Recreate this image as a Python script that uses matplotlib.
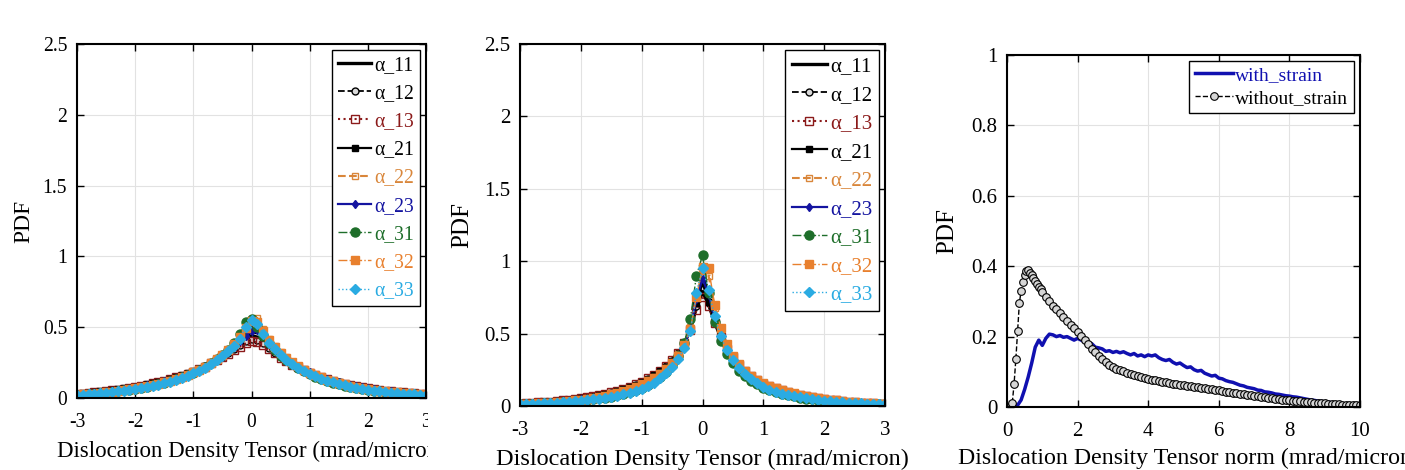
import matplotlib
matplotlib.use('Agg')
import matplotlib.pyplot as plt
from matplotlib.patches import Rectangle

plt.rcParams['font.family'] = ['Liberation Serif', 'DejaVu Serif']
plt.rcParams['axes.unicode_minus'] = False

# ---- data ----
labels_alpha = ['α_11', 'α_12', 'α_13', 'α_21', 'α_22', 'α_23', 'α_31', 'α_32', 'α_33']

x_alpha = [-3.0, -2.9, -2.8, -2.7, -2.6, -2.5, -2.4, -2.3, -2.2, -2.1,
           -2.0, -1.9, -1.8, -1.7, -1.6, -1.5, -1.4, -1.3, -1.2, -1.1,
           -1.0, -0.9, -0.8, -0.7, -0.6, -0.5, -0.4, -0.3, -0.2, -0.1,
           0.0, 0.1, 0.2, 0.3, 0.4, 0.5, 0.6, 0.7, 0.8, 0.9,
           1.0, 1.1, 1.2, 1.3, 1.4, 1.5, 1.6, 1.7, 1.8, 1.9,
           2.0, 2.1, 2.2, 2.3, 2.4, 2.5, 2.6, 2.7, 2.8, 2.9, 3.0]

# panel 1
p1_a11 = [0.030, 0.034, 0.038, 0.042, 0.047, 0.052, 0.057, 0.063, 0.069, 0.075, 0.082, 0.089, 0.097, 0.105, 0.114, 0.124, 0.135, 0.147, 0.160, 0.175, 0.191,
          0.208, 0.227, 0.248, 0.271, 0.297, 0.325, 0.355, 0.385, 0.420, 0.440,
          0.430, 0.400, 0.360, 0.325, 0.293, 0.265, 0.240, 0.218, 0.198,
          0.180, 0.163, 0.148, 0.135, 0.123, 0.112, 0.102, 0.093, 0.085, 0.077, 0.070, 0.064, 0.058, 0.053, 0.048, 0.044, 0.040, 0.036, 0.033, 0.030, 0.027]
p1_a12 = [0.028, 0.031, 0.035, 0.039, 0.044, 0.049, 0.054, 0.060, 0.066, 0.072, 0.079, 0.086, 0.094, 0.102, 0.111, 0.121, 0.132, 0.144, 0.157, 0.171, 0.187,
          0.204, 0.223, 0.244, 0.267, 0.292, 0.318, 0.345, 0.375, 0.405, 0.420,
          0.410, 0.385, 0.350, 0.318, 0.288, 0.262, 0.237, 0.215, 0.196,
          0.178, 0.161, 0.146, 0.133, 0.121, 0.110, 0.100, 0.091, 0.083, 0.076, 0.069, 0.063, 0.057, 0.052, 0.047, 0.043, 0.039, 0.035, 0.032, 0.029, 0.026]
p1_a13 = [0.027, 0.031, 0.034, 0.039, 0.043, 0.049, 0.053, 0.060, 0.065, 0.073, 0.078, 0.087, 0.093, 0.103, 0.110, 0.122, 0.131, 0.145, 0.156, 0.172, 0.186,
          0.205, 0.221, 0.245, 0.265, 0.290, 0.312, 0.338, 0.362, 0.385, 0.400,
          0.395, 0.372, 0.345, 0.315, 0.286, 0.262, 0.236, 0.216, 0.195,
          0.178, 0.160, 0.147, 0.132, 0.122, 0.109, 0.101, 0.090, 0.084, 0.075, 0.070, 0.062, 0.058, 0.051, 0.048, 0.042, 0.039, 0.034, 0.032, 0.028, 0.026]
p1_a21 = [0.029, 0.033, 0.037, 0.041, 0.046, 0.051, 0.056, 0.062, 0.068, 0.074, 0.081, 0.088, 0.096, 0.104, 0.113, 0.123, 0.134, 0.146, 0.159, 0.174, 0.190,
          0.207, 0.226, 0.248, 0.272, 0.300, 0.332, 0.368, 0.410, 0.465, 0.500,
          0.480, 0.430, 0.378, 0.338, 0.302, 0.270, 0.243, 0.219, 0.198,
          0.179, 0.162, 0.147, 0.134, 0.122, 0.111, 0.101, 0.092, 0.084, 0.076, 0.069, 0.063, 0.057, 0.052, 0.047, 0.043, 0.039, 0.035, 0.032, 0.029, 0.026]
p1_a22 = [0.022, 0.025, 0.028, 0.032, 0.036, 0.040, 0.045, 0.050, 0.056, 0.062, 0.069, 0.076, 0.084, 0.093, 0.102, 0.113, 0.124, 0.137, 0.151, 0.167, 0.184,
          0.203, 0.224, 0.248, 0.275, 0.305, 0.340, 0.382, 0.432, 0.500, 0.560,
          0.565, 0.490, 0.420, 0.368, 0.325, 0.288, 0.256, 0.229, 0.205,
          0.184, 0.165, 0.149, 0.134, 0.121, 0.109, 0.098, 0.089, 0.080, 0.072, 0.065, 0.059, 0.053, 0.048, 0.043, 0.039, 0.035, 0.032, 0.029, 0.026, 0.023]
p1_a23 = [0.025, 0.028, 0.032, 0.036, 0.040, 0.045, 0.050, 0.055, 0.061, 0.067, 0.074, 0.081, 0.089, 0.098, 0.107, 0.117, 0.128, 0.141, 0.155, 0.170, 0.186,
          0.204, 0.224, 0.246, 0.271, 0.298, 0.328, 0.362, 0.400, 0.440, 0.470,
          0.480, 0.450, 0.400, 0.355, 0.315, 0.280, 0.250, 0.224, 0.201,
          0.181, 0.163, 0.147, 0.133, 0.121, 0.110, 0.100, 0.091, 0.083, 0.075, 0.068, 0.062, 0.056, 0.051, 0.046, 0.042, 0.038, 0.034, 0.031, 0.028, 0.025]
p1_a31 = [0.021, 0.024, 0.027, 0.030, 0.034, 0.038, 0.043, 0.048, 0.053, 0.059, 0.066, 0.073, 0.080, 0.089, 0.098, 0.108, 0.120, 0.132, 0.146, 0.162, 0.179,
          0.198, 0.220, 0.244, 0.272, 0.304, 0.342, 0.388, 0.450, 0.540, 0.555,
          0.500, 0.440, 0.385, 0.340, 0.300, 0.266, 0.237, 0.211, 0.188,
          0.168, 0.150, 0.134, 0.120, 0.108, 0.097, 0.087, 0.078, 0.070, 0.063, 0.057, 0.051, 0.046, 0.042, 0.038, 0.034, 0.031, 0.028, 0.025, 0.023, 0.021]
p1_a32 = [0.022, 0.025, 0.028, 0.031, 0.035, 0.039, 0.044, 0.049, 0.055, 0.061, 0.068, 0.075, 0.083, 0.092, 0.101, 0.112, 0.123, 0.136, 0.150, 0.165, 0.182,
          0.201, 0.222, 0.246, 0.273, 0.303, 0.338, 0.378, 0.428, 0.495, 0.545,
          0.535, 0.470, 0.408, 0.360, 0.318, 0.282, 0.251, 0.224, 0.200,
          0.180, 0.161, 0.145, 0.130, 0.117, 0.106, 0.096, 0.087, 0.078, 0.071, 0.064, 0.058, 0.052, 0.047, 0.043, 0.039, 0.035, 0.032, 0.029, 0.026, 0.024]
p1_a33 = [0.021, 0.023, 0.025, 0.029, 0.033, 0.037, 0.042, 0.047, 0.052, 0.058, 0.064, 0.071, 0.078, 0.086, 0.095, 0.105, 0.116, 0.128, 0.142, 0.157, 0.174,
          0.193, 0.214, 0.238, 0.265, 0.295, 0.330, 0.370, 0.420, 0.500, 0.550,
          0.520, 0.450, 0.390, 0.345, 0.305, 0.270, 0.240, 0.215, 0.190,
          0.170, 0.152, 0.136, 0.122, 0.110, 0.099, 0.089, 0.080, 0.072, 0.065, 0.058, 0.052, 0.047, 0.042, 0.038, 0.034, 0.031, 0.028, 0.025, 0.023, 0.021]

# panel 2
p2_a11 = [0.016, 0.018, 0.021, 0.024, 0.027, 0.030, 0.034, 0.038, 0.043, 0.048, 0.054, 0.060, 0.067, 0.075, 0.084, 0.094, 0.105, 0.118, 0.132, 0.148, 0.166,
          0.190, 0.214, 0.242, 0.275, 0.315, 0.365, 0.430, 0.530, 0.680, 0.790,
          0.700, 0.580, 0.470, 0.390, 0.330, 0.280, 0.240, 0.207, 0.178,
          0.152, 0.135, 0.120, 0.106, 0.094, 0.084, 0.075, 0.067, 0.060, 0.053, 0.047, 0.042, 0.038, 0.034, 0.030, 0.027, 0.024, 0.021, 0.019, 0.017, 0.015]
p2_a12 = [0.015, 0.017, 0.020, 0.023, 0.026, 0.029, 0.033, 0.037, 0.042, 0.047, 0.053, 0.059, 0.066, 0.074, 0.083, 0.093, 0.104, 0.117, 0.131, 0.147, 0.165,
          0.189, 0.213, 0.241, 0.274, 0.314, 0.364, 0.430, 0.535, 0.690, 0.820,
          0.710, 0.585, 0.472, 0.392, 0.331, 0.281, 0.241, 0.208, 0.179,
          0.153, 0.135, 0.120, 0.106, 0.094, 0.084, 0.075, 0.067, 0.060, 0.053, 0.047, 0.042, 0.038, 0.034, 0.030, 0.027, 0.024, 0.021, 0.019, 0.017, 0.015]
p2_a13 = [0.016, 0.019, 0.021, 0.025, 0.027, 0.031, 0.034, 0.039, 0.043, 0.049, 0.054, 0.061, 0.067, 0.076, 0.084, 0.095, 0.105, 0.119, 0.132, 0.150, 0.167,
          0.192, 0.215, 0.245, 0.276, 0.318, 0.366, 0.432, 0.525, 0.660, 0.750,
          0.690, 0.575, 0.475, 0.395, 0.335, 0.283, 0.244, 0.209, 0.181,
          0.154, 0.137, 0.121, 0.108, 0.095, 0.085, 0.076, 0.068, 0.061, 0.054, 0.048, 0.043, 0.039, 0.034, 0.031, 0.027, 0.024, 0.022, 0.019, 0.017, 0.015]
p2_a21 = [0.015, 0.017, 0.019, 0.022, 0.025, 0.028, 0.032, 0.036, 0.041, 0.046, 0.052, 0.058, 0.065, 0.073, 0.082, 0.092, 0.103, 0.116, 0.130, 0.146, 0.163,
          0.187, 0.211, 0.239, 0.272, 0.312, 0.362, 0.430, 0.540, 0.710, 0.850,
          0.720, 0.585, 0.470, 0.390, 0.328, 0.278, 0.238, 0.205, 0.176,
          0.151, 0.133, 0.118, 0.104, 0.092, 0.082, 0.073, 0.065, 0.058, 0.052, 0.046, 0.041, 0.037, 0.033, 0.029, 0.026, 0.023, 0.021, 0.019, 0.017, 0.015]
p2_a22 = [0.013, 0.015, 0.017, 0.019, 0.022, 0.025, 0.028, 0.032, 0.036, 0.041, 0.046, 0.052, 0.058, 0.066, 0.074, 0.083, 0.094, 0.106, 0.120, 0.136, 0.154,
          0.178, 0.202, 0.230, 0.263, 0.305, 0.358, 0.430, 0.545, 0.760, 0.930,
          0.900, 0.680, 0.530, 0.420, 0.342, 0.285, 0.241, 0.206, 0.178,
          0.153, 0.135, 0.120, 0.107, 0.095, 0.085, 0.076, 0.068, 0.061, 0.054, 0.048, 0.043, 0.038, 0.034, 0.030, 0.027, 0.024, 0.021, 0.019, 0.017, 0.015]
p2_a23 = [0.013, 0.015, 0.017, 0.019, 0.022, 0.025, 0.028, 0.031, 0.035, 0.040, 0.045, 0.050, 0.056, 0.063, 0.071, 0.080, 0.090, 0.102, 0.115, 0.130, 0.147,
          0.170, 0.193, 0.220, 0.253, 0.294, 0.346, 0.418, 0.530, 0.740, 0.880,
          0.770, 0.600, 0.475, 0.385, 0.318, 0.267, 0.227, 0.194, 0.167,
          0.144, 0.127, 0.112, 0.099, 0.088, 0.078, 0.069, 0.062, 0.055, 0.049, 0.043, 0.039, 0.034, 0.031, 0.027, 0.024, 0.022, 0.019, 0.017, 0.015, 0.013]
p2_a31 = [0.011, 0.013, 0.014, 0.016, 0.018, 0.020, 0.023, 0.026, 0.029, 0.033, 0.037, 0.041, 0.046, 0.052, 0.058, 0.065, 0.074, 0.084, 0.096, 0.110, 0.126,
          0.148, 0.172, 0.201, 0.237, 0.283, 0.345, 0.435, 0.600, 0.900, 1.040,
          0.780, 0.580, 0.450, 0.360, 0.294, 0.245, 0.207, 0.176, 0.150,
          0.127, 0.111, 0.097, 0.085, 0.075, 0.066, 0.058, 0.051, 0.045, 0.040, 0.035, 0.031, 0.028, 0.025, 0.022, 0.019, 0.017, 0.015, 0.013, 0.012, 0.011]
p2_a32 = [0.013, 0.015, 0.017, 0.019, 0.021, 0.024, 0.027, 0.031, 0.035, 0.039, 0.044, 0.050, 0.056, 0.063, 0.071, 0.080, 0.090, 0.102, 0.116, 0.131, 0.149,
          0.171, 0.194, 0.222, 0.255, 0.296, 0.348, 0.420, 0.530, 0.750, 0.960,
          0.950, 0.700, 0.540, 0.425, 0.345, 0.287, 0.243, 0.208, 0.180,
          0.157, 0.139, 0.123, 0.110, 0.097, 0.087, 0.077, 0.069, 0.061, 0.055, 0.049, 0.043, 0.039, 0.034, 0.031, 0.027, 0.024, 0.021, 0.019, 0.017, 0.015]
p2_a33 = [0.012, 0.013, 0.015, 0.017, 0.019, 0.021, 0.023, 0.026, 0.029, 0.032, 0.036, 0.040, 0.045, 0.050, 0.056, 0.063, 0.071, 0.080, 0.091, 0.104, 0.119,
          0.140, 0.162, 0.190, 0.225, 0.270, 0.325, 0.400, 0.520, 0.780, 0.950,
          0.800, 0.620, 0.480, 0.385, 0.315, 0.262, 0.220, 0.186, 0.158,
          0.128, 0.112, 0.098, 0.086, 0.076, 0.067, 0.059, 0.052, 0.046, 0.041, 0.036, 0.032, 0.028, 0.025, 0.022, 0.020, 0.018, 0.016, 0.014, 0.013, 0.012]

p1_series = [p1_a11, p1_a12, p1_a13, p1_a21, p1_a22, p1_a23, p1_a31, p1_a32, p1_a33]
p2_series = [p2_a11, p2_a12, p2_a13, p2_a21, p2_a22, p2_a23, p2_a31, p2_a32, p2_a33]

# panel 3
x_norm = [0.0, 0.1, 0.2, 0.3, 0.4, 0.5, 0.6, 0.7, 0.8, 0.9,
          1.0, 1.1, 1.2, 1.3, 1.4, 1.5, 1.6, 1.7, 1.8, 1.9,
          2.0, 2.1, 2.2, 2.3, 2.4, 2.5, 2.6, 2.7, 2.8, 2.9,
          3.0, 3.1, 3.2, 3.3, 3.4, 3.5, 3.6, 3.7, 3.8, 3.9,
          4.0, 4.1, 4.2, 4.3, 4.4, 4.5, 4.6, 4.7, 4.8, 4.9,
          5.0, 5.1, 5.2, 5.3, 5.4, 5.5, 5.6, 5.7, 5.8, 5.9,
          6.0, 6.1, 6.2, 6.3, 6.4, 6.5, 6.6, 6.7, 6.8, 6.9,
          7.0, 7.1, 7.2, 7.3, 7.4, 7.5, 7.6, 7.7, 7.8, 7.9,
          8.0, 8.1, 8.2, 8.3, 8.4, 8.5, 8.6, 8.7, 8.8, 8.9,
          9.0, 9.1, 9.2, 9.3, 9.4, 9.5, 9.6, 9.7, 9.8, 9.9, 10.0]
with_strain = [0.0, 0.0, 0.0, 0.005, 0.02, 0.05, 0.085, 0.125, 0.17, 0.19,
               0.175, 0.195, 0.207, 0.205, 0.2, 0.203, 0.198, 0.2, 0.195, 0.19,
               0.195, 0.19, 0.185, 0.178, 0.18, 0.17, 0.168, 0.165, 0.158, 0.16,
               0.155, 0.158, 0.154, 0.157, 0.152, 0.148, 0.152, 0.145, 0.148, 0.143,
               0.148, 0.145, 0.148, 0.14, 0.135, 0.132, 0.135, 0.127, 0.122, 0.125,
               0.118, 0.112, 0.114, 0.106, 0.102, 0.104, 0.096, 0.092, 0.088, 0.09,
               0.082, 0.08, 0.075, 0.072, 0.07, 0.066, 0.062, 0.06, 0.056, 0.054,
               0.052, 0.048, 0.047, 0.043, 0.042, 0.04, 0.037, 0.036, 0.034, 0.032,
               0.031, 0.029, 0.028, 0.026, 0.024, 0.022, 0.02, 0.019, 0.017, 0.016,
               0.015, 0.014, 0.012, 0.011, 0.01, 0.009, 0.008, 0.007, 0.006, 0.006, 0.005]

x_wo_start = [0.0, 0.05, 0.1, 0.15, 0.2, 0.25, 0.3, 0.35, 0.4, 0.45,
              0.5, 0.55, 0.6, 0.65, 0.7, 0.75, 0.8, 0.85, 0.9, 0.95]
x_without = x_wo_start + x_norm[10:]
without_strain = [0.0, 0.0, 0.003, 0.012, 0.065, 0.135, 0.215, 0.295, 0.33, 0.355,
                  0.375, 0.385, 0.388, 0.382, 0.374, 0.366, 0.358, 0.35, 0.342, 0.334,
                  0.326, 0.313, 0.3, 0.288, 0.277, 0.266, 0.255, 0.245, 0.234, 0.224,
                  0.213, 0.202, 0.19, 0.178, 0.166, 0.155, 0.145, 0.135, 0.127, 0.12,
                  0.114, 0.109, 0.105, 0.101, 0.097, 0.094, 0.091, 0.088, 0.085, 0.083,
                  0.08, 0.078, 0.076, 0.074, 0.072, 0.07, 0.068, 0.066, 0.065, 0.063,
                  0.062, 0.06, 0.059, 0.057, 0.056, 0.054, 0.053, 0.051, 0.05, 0.048,
                  0.047, 0.045, 0.044, 0.042, 0.041, 0.039, 0.038, 0.036, 0.035, 0.033,
                  0.032, 0.03, 0.029, 0.028, 0.026, 0.025, 0.024, 0.023, 0.021, 0.02,
                  0.019, 0.018, 0.017, 0.016, 0.015, 0.014, 0.013, 0.012, 0.012, 0.011,
                  0.01, 0.009, 0.009, 0.008, 0.008, 0.007, 0.007, 0.006, 0.006, 0.005, 0.005]

# ticks
alpha_xticks = [-3, -2, -1, 0, 1, 2, 3]
alpha_yticks = [0, 0.5, 1, 1.5, 2, 2.5]
alpha_yticklabels = ['0', '0.5', '1', '1.5', '2', '2.5']
norm_xticks = [0, 2, 4, 6, 8, 10]
norm_yticks = [0, 0.2, 0.4, 0.6, 0.8, 1]
norm_yticklabels = ['0', '0.2', '0.4', '0.6', '0.8', '1']

# line styles for the nine tensor components
styles = [
    dict(color='black', ls='-', lw=2.4),
    dict(color='black', ls='--', lw=1.3, marker='o', ms=5, mfc='#d9d9d9', mec='black'),
    dict(color='#8B1A1A', ls=':', lw=1.5, marker='s', ms=5.5, mfc='none'),
    dict(color='black', ls='-', lw=1.6, marker='s', ms=4),
    dict(color='#D9863A', ls='--', lw=1.5, marker='s', ms=5, mfc='none'),
    dict(color='#1414A0', ls='-', lw=1.6, marker='d', ms=4.5),
    dict(color='#1E6E2A', ls='-.', lw=1.0, marker='o', ms=6.5),
    dict(color='#E8802E', ls='-.', lw=1.0, marker='s', ms=6),
    dict(color='#2AABE2', ls=':', lw=1.0, marker='D', ms=5.5),
]


def style_axes(ax, fs=15):
    ax.grid(True, color='#e2e2e2', lw=0.8)
    ax.set_axisbelow(True)
    ax.tick_params(direction='in', top=True, right=True, length=5, width=1, labelsize=fs)
    ax.tick_params(axis='x', pad=11)
    ax.tick_params(axis='y', pad=7)
    for s in ax.spines.values():
        s.set_linewidth(1.5)


def color_legend(leg):
    leg.get_frame().set_linewidth(1.0)
    for txt, line in zip(leg.get_texts(), leg.get_lines()):
        txt.set_color(line.get_color())


def alpha_panel(ax, series, ypad, scale, lspace):
    for y, lab, st in zip(series, labels_alpha, styles):
        ax.plot(x_alpha, y, label=lab, **st)
    ax.set_xlim(-3, 3)
    ax.set_ylim(0, 2.5)
    ax.set_xticks(alpha_xticks)
    ax.set_yticks(alpha_yticks)
    ax.set_yticklabels(alpha_yticklabels)
    style_axes(ax, 15 * scale)
    ax.set_xlabel('Dislocation Density Tensor (mrad/micron)', fontsize=17.5 * scale, labelpad=6)
    ax.set_ylabel('PDF', fontsize=18 * scale, labelpad=ypad)
    leg = ax.legend(loc='upper right', fontsize=15 * scale, fancybox=False, edgecolor='black',
                    framealpha=1, handlelength=1.7, handletextpad=0.15,
                    labelspacing=lspace, borderpad=0.3, borderaxespad=0.3)
    color_legend(leg)


fig = plt.figure(figsize=(14.05, 4.70), dpi=100)
W, H = 1405, 470

ax1 = fig.add_axes([77 / W, (H - 398) / H, 349 / W, 354 / H])
ax2 = fig.add_axes([520 / W, (H - 406) / H, 365 / W, 362 / H])
ax3 = fig.add_axes([1007 / W, (H - 407) / H, 353 / W, 352 / H])

alpha_panel(ax1, p1_series, 6, 0.94, 0.47)
alpha_panel(ax2, p2_series, 8, 1.0, 0.43)

# right panel: norm
ax3.plot(x_norm, with_strain, color='#1010B0', lw=2.5, label='with_strain')
ax3.plot(x_without, without_strain, color='black', ls='--', lw=1.0, marker='o', ms=5.5,
         mfc='#d6d6d6', mec='black', mew=0.8, label='without_strain')
ax3.set_xlim(0, 10)
ax3.set_ylim(0, 1)
ax3.set_xticks(norm_xticks)
ax3.set_yticks(norm_yticks)
ax3.set_yticklabels(norm_yticklabels)
style_axes(ax3)
ax3.set_xlabel('Dislocation Density Tensor norm (mrad/micron)', fontsize=17.2, labelpad=5)
ax3.xaxis.label.set_x(0.515)
ax3.set_ylabel('PDF', fontsize=18, labelpad=9)
leg3 = ax3.legend(loc='upper right', fontsize=14, fancybox=False, edgecolor='black',
                  framealpha=1, handlelength=2.0, handletextpad=0.1,
                  labelspacing=0.25, borderpad=0.3, borderaxespad=0.3)
color_legend(leg3)

# left panel is cut off on its right side in the original (tick "3" and x label)
fig.patches.append(Rectangle((428 / W, 0), 66 / W, 90 / H, transform=fig.transFigure,
                             facecolor='white', edgecolor='none', zorder=5))

fig.savefig('out.png', dpi=100)
